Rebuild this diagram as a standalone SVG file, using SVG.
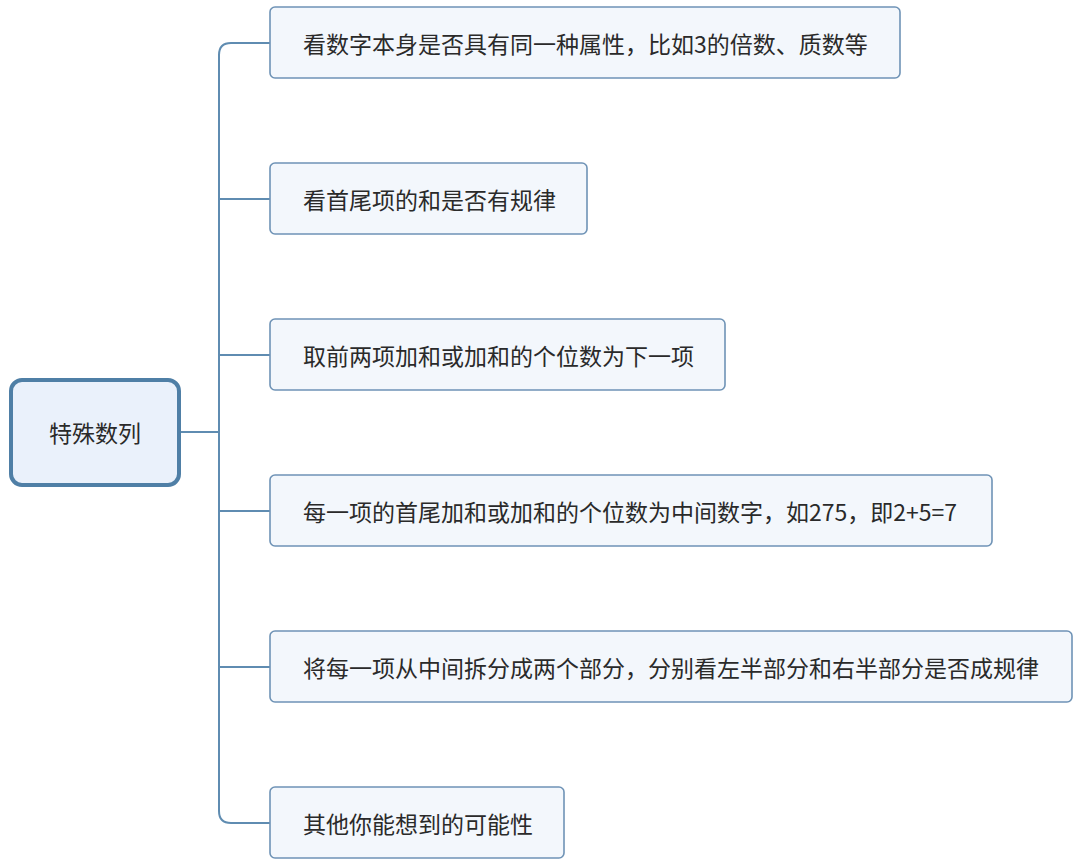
<svg xmlns="http://www.w3.org/2000/svg" width="1080" height="865" viewBox="0 0 1080 865">
<style>
.bg{fill:#ffffff}
.root{fill:#eaf1fb;stroke:#4f7fa6;stroke-width:4}
.box{fill:#f3f7fc;stroke:#6f93b6;stroke-width:1.6}
.t{font-family:"Noto Sans CJK SC","Liberation Sans",sans-serif;font-size:23px;fill:#2a2a2a;dominant-baseline:central}
.rt{font-family:"Noto Sans CJK SC","Liberation Sans",sans-serif;font-size:23px;fill:#2a2a2a;dominant-baseline:central;text-anchor:middle}
.ln{fill:none;stroke:#5f8cb1;stroke-width:2}
</style>
<rect class="bg" x="0" y="0" width="1080" height="865"/>
<g id="connectors">
<path class="ln" d="M180,432 H219"/>
<path class="ln" d="M270,43 H231 Q219,43 219,55 V811 Q219,823 231,823 H270"/>
<path class="ln" d="M219,199 H270"/>
<path class="ln" d="M219,355 H270"/>
<path class="ln" d="M219,511 H270"/>
<path class="ln" d="M219,667 H270"/>
</g>
<g id="root">
<rect class="root" x="11" y="380" width="168" height="105" rx="11"/>
<text class="rt" x="95" y="432">特殊数列</text>
</g>
<g id="n1">
<rect class="box" x="270" y="7" width="630" height="71" rx="5"/>
<text class="t" x="303" y="43">看数字本身是否具有同一种属性，比如3的倍数、质数等</text>
</g>
<g id="n2">
<rect class="box" x="270" y="163" width="317" height="71" rx="5"/>
<text class="t" x="303" y="199">看首尾项的和是否有规律</text>
</g>
<g id="n3">
<rect class="box" x="270" y="319" width="455" height="71" rx="5"/>
<text class="t" x="303" y="355">取前两项加和或加和的个位数为下一项</text>
</g>
<g id="n4">
<rect class="box" x="270" y="475" width="722" height="71" rx="5"/>
<text class="t" x="303" y="511">每一项的首尾加和或加和的个位数为中间数字，如275，即2+5=7</text>
</g>
<g id="n5">
<rect class="box" x="270" y="631" width="802" height="71" rx="5"/>
<text class="t" x="303" y="667">将每一项从中间拆分成两个部分，分别看左半部分和右半部分是否成规律</text>
</g>
<g id="n6">
<rect class="box" x="270" y="787" width="294" height="71" rx="5"/>
<text class="t" x="303" y="823">其他你能想到的可能性</text>
</g>
</svg>
